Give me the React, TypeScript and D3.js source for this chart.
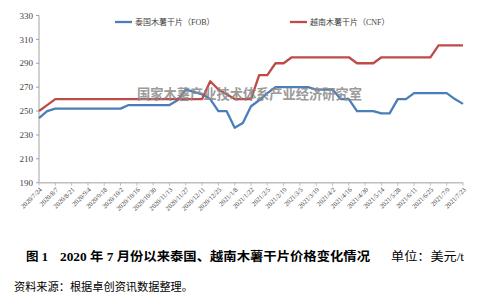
import * as d3 from 'd3'

const dates = [
  '2020/7/24', '2020/7/31', '2020/8/7', '2020/8/14', '2020/8/21', '2020/8/28',
  '2020/9/4', '2020/9/11', '2020/9/18', '2020/9/25', '2020/10/2', '2020/10/9',
  '2020/10/16', '2020/10/23', '2020/10/30', '2020/11/6', '2020/11/13', '2020/11/20',
  '2020/11/27', '2020/12/4', '2020/12/11', '2020/12/18', '2020/12/25', '2021/1/1',
  '2021/1/8', '2021/1/15', '2021/1/22', '2021/1/29', '2021/2/5', '2021/2/12',
  '2021/2/19', '2021/2/26', '2021/3/5', '2021/3/12', '2021/3/19', '2021/3/26',
  '2021/4/2', '2021/4/9', '2021/4/16', '2021/4/23', '2021/4/30', '2021/5/7',
  '2021/5/14', '2021/5/21', '2021/5/28', '2021/6/4', '2021/6/11', '2021/6/18',
  '2021/6/25', '2021/7/2', '2021/7/9', '2021/7/16', '2021/7/23',
]

// 泰国木薯干片（FOB）
const thailand = [
  244, 250, 252, 252, 252, 252, 252, 252, 252, 252, 252, 255, 255, 255, 255, 255,
  255, 259, 268, 266, 264, 260, 250, 250, 236, 240, 254, 259, 265, 270, 270, 270,
  270, 270, 268, 268, 268, 260, 260, 250, 250, 250, 248, 248, 260, 260, 265, 265,
  265, 265, 265, 260, 256,
]

// 越南木薯干片（CNF）
const vietnam = [
  250, 255, 260, 260, 260, 260, 260, 260, 260, 260, 260, 260, 260, 260, 260, 260,
  260, 260, 260, 260, 260, 275, 268, 264, 260, 260, 260, 280, 280, 290, 290, 295,
  295, 295, 295, 295, 295, 295, 295, 290, 290, 290, 295, 295, 295, 295, 295, 295,
  295, 305, 305, 305, 305,
]

const yTicks = [190, 210, 230, 250, 270, 290, 310, 330]
const xTickLabels = dates.filter((_, i) => i % 2 === 0)

const seriesList = [
  { name: '泰国木薯干片（FOB）', values: thailand, color: '#4a7ebb' },
  { name: '越南木薯干片（CNF）', values: vietnam, color: '#be4b48' },
]

const serif = '"Liberation Serif", "Times New Roman", "Noto Sans CJK SC", serif'
const cjk = '"Liberation Serif", "Noto Sans CJK SC", serif'

export default function App() {
  const width = 492
  const height = 299
  const plot = { left: 39, right: 463, top: 15.5, bottom: 182.7 }

  const x = d3.scaleLinear().domain([0, dates.length - 1]).range([plot.left, plot.right])
  const y = d3.scaleLinear().domain([190, 330]).range([plot.bottom, plot.top])

  const line = d3
    .line<number>()
    .x((_, i) => x(i))
    .y(d => y(d))

  return (
    <div style={{ position: 'absolute', left: 0, top: 0 }}>
      <svg width={width} height={height} style={{ display: 'block', background: '#fff' }}>
        {/* y axis */}
        <line x1={plot.left} x2={plot.left} y1={plot.top} y2={plot.bottom} stroke="#8c8c8c" strokeWidth={0.8} />
        {yTicks.map(t => (
          <g key={t}>
            <line x1={plot.left - 3} x2={plot.left} y1={y(t)} y2={y(t)} stroke="#8c8c8c" strokeWidth={0.8} />
            <text
              x={plot.left - 6}
              y={y(t)}
              dy="0.35em"
              textAnchor="end"
              fontFamily={serif}
              fontSize={9}
              fill="#404040"
            >
              {t}
            </text>
          </g>
        ))}

        {/* x axis */}
        <line x1={plot.left} x2={plot.right} y1={plot.bottom} y2={plot.bottom} stroke="#c0c0c0" strokeWidth={1.4} />
        {dates.map((d, i) =>
          i % 2 === 0 ? (
            <line key={d} x1={x(i)} x2={x(i)} y1={plot.bottom} y2={plot.bottom + 3} stroke="#b0b0b0" strokeWidth={0.8} />
          ) : null
        )}
        {xTickLabels.map((d, k) => {
          const px = x(k * 2) + 2
          const py = plot.bottom + 6
          return (
            <text
              key={d}
              transform={`translate(${px},${py}) rotate(-45)`}
              textAnchor="end"
              dy="0.3em"
              fontFamily={serif}
              fontSize={6.6}
              fill="#404040"
            >
              {d}
            </text>
          )
        })}

        {/* lines */}
        {seriesList.map(s => (
          <path
            key={s.name}
            d={line(s.values) ?? ''}
            fill="none"
            stroke={s.color}
            strokeWidth={2.3}
            strokeLinejoin="round"
          />
        ))}

        {/* legend */}
        {seriesList.map((s, k) => {
          const lx = k === 0 ? 115 : 290
          return (
            <g key={s.name}>
              <line x1={lx} x2={lx + 17} y1={22} y2={22} stroke={s.color} strokeWidth={2.3} />
              <text x={lx + 20} y={22} dy="0.35em" fontFamily={cjk} fontSize={8} fill="#404040">
                {s.name}
              </text>
            </g>
          )
        })}

        {/* watermark */}
        <text
          x={137}
          y={99}
          fontFamily='"Noto Sans CJK SC", sans-serif'
          fontWeight="bold"
          fontSize={14}
          fill="#8a8a8a"
          opacity={0.85}
          textLength={225}
          lengthAdjust="spacingAndGlyphs"
        >
          国家木薯产业技术体系产业经济研究室
        </text>

        {/* caption */}
        <text x={26} y={261} fontFamily={cjk} fontWeight="bold" fontSize={12.5} fill="#000">
          图 1
        </text>
        <text
          x={60}
          y={261}
          fontFamily={cjk}
          fontWeight="bold"
          fontSize={12.5}
          fill="#000"
          textLength={310}
          lengthAdjust="spacingAndGlyphs"
        >
          2020 年 7 月份以来泰国、越南木薯干片价格变化情况
        </text>
        <text x={391} y={261} fontFamily={cjk} fontSize={12} fill="#000" textLength={73} lengthAdjust="spacingAndGlyphs">
          单位：美元/t
        </text>
        <text x={14} y={291} fontFamily={cjk} fontSize={11} fill="#000" textLength={179} lengthAdjust="spacingAndGlyphs">
          资料来源：根据卓创资讯数据整理。
        </text>
      </svg>
    </div>
  )
}
